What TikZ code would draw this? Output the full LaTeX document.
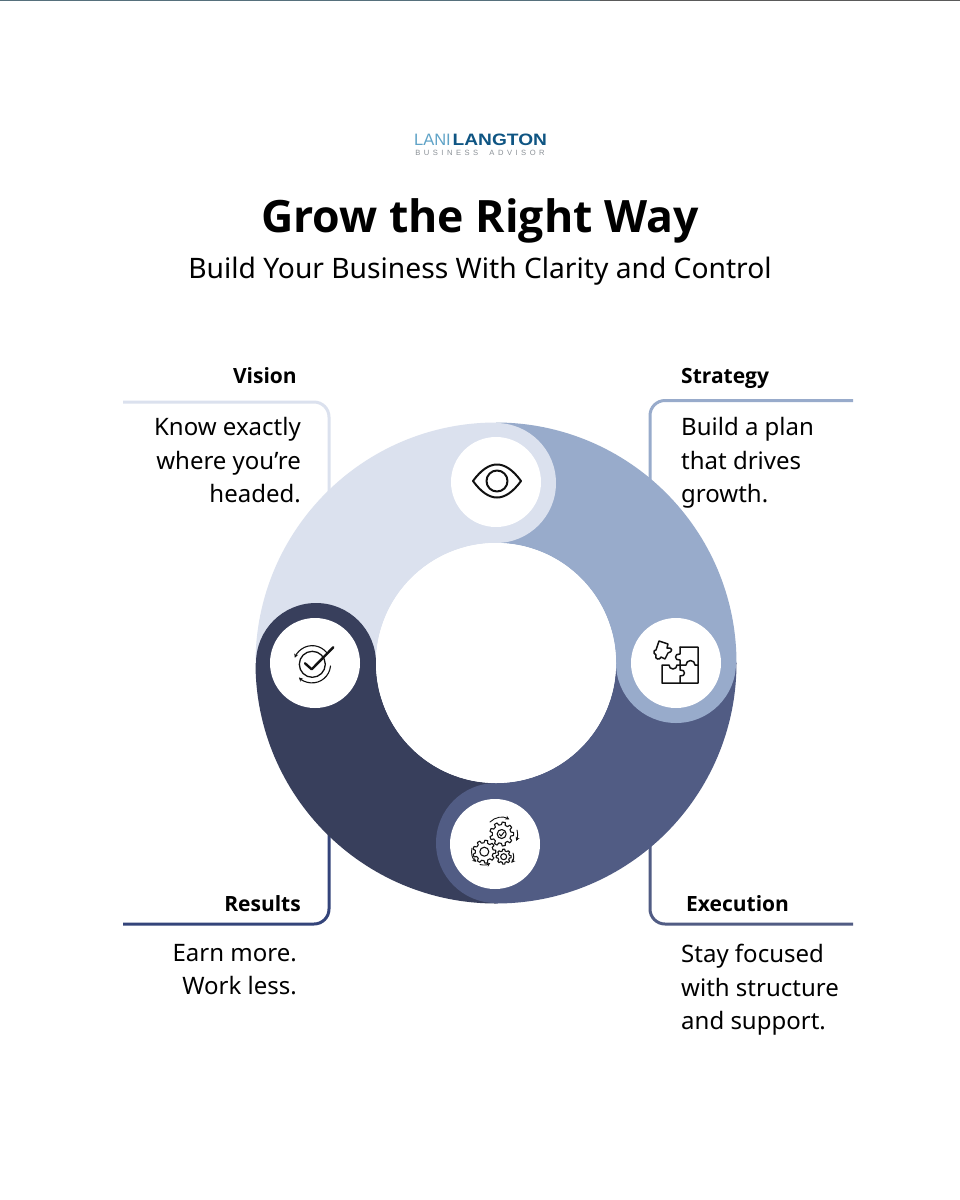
\documentclass[tikz,border=0pt]{standalone}
\usepackage{fontspec}
\setmainfont{Noto Sans}
\newfontfamily\titlefont{Open Sans}
\newfontfamily\logofont{Liberation Sans}
\newfontfamily\logowide[FakeStretch=1.16]{Liberation Sans}
\newfontfamily\logospaced[LetterSpace=46]{Liberation Sans}
\usetikzlibrary{arrows.meta,calc}
\definecolor{cVision}{HTML}{DBE1EE}
\definecolor{cStrategy}{HTML}{98ABCB}
\definecolor{cExecution}{HTML}{515C84}
\definecolor{cResults}{HTML}{383F5C}
\definecolor{cResultsLine}{HTML}{34447A}
\definecolor{cLogoA}{HTML}{5FA3C7}
\definecolor{cLogoB}{HTML}{0F5583}
\definecolor{cLogoC}{HTML}{8A9096}
\definecolor{cInk}{HTML}{111111}
\definecolor{cBarA}{HTML}{56707C}
\definecolor{cBarB}{HTML}{5A5A5A}
\newcommand{\quadband}[3]{% colour, start angle, end angle (y axis points down)
  \fill[#1] ($(c)+(#2:240.5)$) arc[start angle=#2,end angle=#3,radius=240.5]
    -- ($(c)+(#3:120)$) arc[start angle=#3,end angle=#2,radius=120] -- cycle;}
\newcommand{\gearshape}[4]{% x,y,radius,teeth
  \draw[icon,line width=1.1pt,line join=round]
    \foreach \t [evaluate=\t as \a using {\t*360/#4}] in {1,...,#4}{
      ({#1+#3*0.78*cos(\a-0.30*360/#4)},{#2+#3*0.78*sin(\a-0.30*360/#4)})
      -- ({#1+#3*cos(\a-0.18*360/#4)},{#2+#3*sin(\a-0.18*360/#4)})
      -- ({#1+#3*cos(\a+0.18*360/#4)},{#2+#3*sin(\a+0.18*360/#4)})
      -- ({#1+#3*0.78*cos(\a+0.30*360/#4)},{#2+#3*0.78*sin(\a+0.30*360/#4)})
      -- ({#1+#3*0.78*cos(\a+0.70*360/#4)},{#2+#3*0.78*sin(\a+0.70*360/#4)})
    };}
\tikzset{
  x=1pt,y=-1pt,
  icon/.style={draw=cInk,line width=1.5pt,line cap=round,line join=round},
  leader/.style={line width=3pt,rounded corners=15pt},
  heading/.style={inner sep=0pt,font=\titlefont\fontsize{21}{26}\selectfont\bfseries},
  blurb/.style={inner sep=0pt,font=\fontsize{24}{33.6}\selectfont},
  dot/.style={circle,fill=white,draw=none,minimum size=90pt,inner sep=0pt},
  head/.style={circle,draw=none,minimum size=120pt,inner sep=0pt},
  spin/.style={icon,line width=1.1pt,-{Stealth[length=4pt,width=4pt]}}
}
\begin{document}
\begin{tikzpicture}
\useasboundingbox (0,0) rectangle (960,1200);
\fill[white] (0,0) rectangle (960,1200);
\fill[cBarA] (0,0) rectangle (600,1.4);
\fill[cBarB] (600,0) rectangle (960,1.4);
\coordinate (c) at (496,663);

% logo
\node[anchor=base east,inner sep=0pt,text=cLogoA] (lani) at (451,145.5)
  {\logofont\fontsize{16.5}{18}\selectfont LANI};
\node[anchor=base west,inner sep=0pt,text=cLogoB] (langton) at (452.5,145.5)
  {\logowide\bfseries\fontsize{16.5}{18}\selectfont LANGTON};
\node[anchor=base,inner sep=0pt,text=cLogoC] (advisor) at (480,155)
  {\logospaced\fontsize{7.6}{8}\selectfont BUSINESS\ \ ADVISOR};

% titles
\node[anchor=base,inner sep=0pt] (title) at (480,232)
  {\titlefont\bfseries\fontsize{44.6}{50}\selectfont Grow the Right Way};
\node[anchor=base,inner sep=0pt] (subtitle) at (480,278)
  {\fontsize{28.2}{32}\selectfont Build Your Business With Clarity and Control};

% leaders
\coordinate (vA) at (123,402); \coordinate (vB) at (329,402); \coordinate (vC) at (329,500);
\coordinate (sA) at (853,400.5); \coordinate (sB) at (650,400.5); \coordinate (sC) at (650,500);
\coordinate (eA) at (853,924); \coordinate (eB) at (650,924); \coordinate (eC) at (650,830);
\coordinate (rA) at (123,924); \coordinate (rB) at (329,924); \coordinate (rC) at (329,830);
\draw[leader,draw=cVision] (vA) -- (vB) -- (vC);
\draw[leader,draw=cStrategy] (sA) -- (sB) -- (sC);
\draw[leader,draw=cExecution] (eA) -- (eB) -- (eC);
\draw[leader,draw=cResultsLine] (rA) -- (rB) -- (rC);

% ring
\quadband{cVision}{180}{270}
\quadband{cResults}{90}{180}
\node[head,fill=cResults] (hR) at (316,663) {};
\quadband{cExecution}{0}{90}
\node[head,fill=cExecution] (hE) at (496,843) {};
\quadband{cStrategy}{270}{360}
\node[head,fill=cStrategy] (hS) at (676,663) {};
\node[head,fill=cVision] (hV) at (496,483) {};
\fill[white] (c) circle[radius=120];

\node[dot] (dV) at (496,482) {};
\node[dot] (dS) at (676,663) {};
\node[dot] (dE) at (495,844) {};
\node[dot] (dR) at (315,663) {};

% eye
\draw[icon,line width=2pt] (473,481) .. controls (481,470) and (489,464.5) .. (497,464.5)
  .. controls (505,464.5) and (513,470) .. (521,481)
  .. controls (513,492) and (505,497.5) .. (497,497.5)
  .. controls (489,497.5) and (481,492) .. (473,481) -- cycle;
\draw[icon,line width=2pt] (497,481) circle[radius=10.5];

% puzzle
\begin{scope}[icon,line width=1.5pt]
  \draw (680,647) -- (698,647) -- (698,683) -- (662,683) -- (662,665) -- (669,665)
    arc[start angle=180,end angle=0,radius=4] -- (680,665);
  \draw (680,683) -- (680,676) .. controls (686,677) and (686,669) .. (680,670) -- (680,665)
    -- (686,665) arc[start angle=180,end angle=360,radius=4.5] -- (698,665);
  \draw (680,647) -- (680,654) .. controls (674,653) and (674,661) .. (680,660) -- (680,665);
  \draw (659,641) -- (668,644) -- (667,648) .. controls (673,647) and (673,652) .. (668,653)
    -- (665,659) -- (661,657) .. controls (660,661) and (654,659) .. (656,655) -- (654,653)
    .. controls (653,651) and (655,650) .. (656,650) -- (659,641);
\end{scope}

% check / cycle
\draw[icon,line width=1.3pt] (312.3,664.3) circle[radius=13];
\draw[spin] (327,653) arc[start angle=-37,end angle=-160,radius=18.5];
\draw[spin] (330.5,666) arc[start angle=5,end angle=135,radius=18.5];
\draw[icon,line width=2.4pt,draw=cInk] (305,663.3) -- (311.7,669.3) -- (333.3,647.3);

% gears
\gearshape{501.7}{834}{12}{9}
\gearshape{484.3}{851.7}{11.5}{9}
\gearshape{503.7}{856.7}{7.5}{8}
\draw[icon,line width=1.1pt] (501.7,834) circle[radius=4.5];
\draw[icon,line width=1.1pt] (484.3,851.7) circle[radius=4.5];
\draw[icon,line width=1.1pt] (503.7,856.7) circle[radius=3];
\draw[icon,line width=1pt] (499.4,834) -- (501,836) -- (504.2,832);
\draw[spin,line width=.9pt] (490,822) arc[start angle=-135,end angle=-60,radius=16];
\draw[spin,line width=.9pt] (517,830) arc[start angle=-15,end angle=25,radius=16];
\draw[spin,line width=.9pt] (472,848) arc[start angle=195,end angle=130,radius=13.5];
\draw[spin,line width=.9pt] (480,864.5) arc[start angle=105,end angle=60,radius=13.5];
\draw[spin,line width=.9pt] (513,853) arc[start angle=-20,end angle=40,radius=10];

% texts
\node[heading,anchor=base east] (vh) at (297,383) {Vision};
\node[blurb,anchor=north east,align=right] (vt) at (301,417)
  {Know exactly\\where you’re\\headed.};
\node[heading,anchor=base west] (sh) at (681,383) {Strategy};
\node[blurb,anchor=north west,align=left] (st) at (681,417)
  {Build a plan\\that drives\\growth.};
\node[heading,anchor=base west] (eh) at (686,911) {Execution};
\node[blurb,anchor=north west,align=left] (et) at (681,944)
  {Stay focused\\with structure\\and support.};
\node[heading,anchor=base east] (rh) at (301,911) {Results};
\node[blurb,anchor=north east,align=right] (rt) at (297,944)
  {Earn more.\\Work less.};
\end{tikzpicture}
\end{document}
